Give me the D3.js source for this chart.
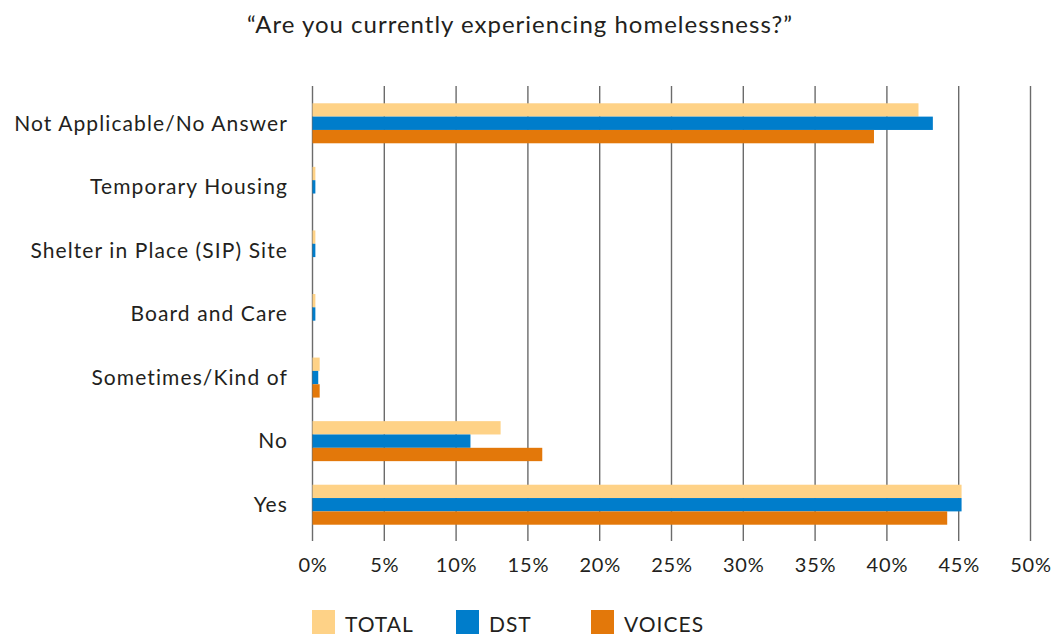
<!DOCTYPE html>
<html><head><meta charset="utf-8">
<script src="https://cdn.jsdelivr.net/npm/d3@7"></script>
<style>body{margin:0;background:#fff}svg{display:block}text{font-family:Lato,"Noto Sans",sans-serif;fill:#231f20}</style>
</head><body>
<svg id="c" width="1054" height="635"></svg>
<script>
const categories = ["Not Applicable/No Answer","Temporary Housing","Shelter in Place (SIP) Site","Board and Care","Sometimes/Kind of","No","Yes"];
const seriesNames = ["TOTAL","DST","VOICES"];
const totalValues = [42.2, 0.2, 0.2, 0.2, 0.5, 13.1, 45.2];
const dstValues = [43.2, 0.2, 0.2, 0.2, 0.4, 11.0, 45.2];
const voicesValues = [39.1, 0, 0, 0, 0.5, 16.0, 44.2];
const tickValues = [0,5,10,15,20,25,30,35,40,45,50];
const colors = ["#fed287","#007dcb","#e3780a"];
const title = "\u201cAre you currently experiencing homelessness?\u201d";

const series = [totalValues, dstValues, voicesValues];
const svg = d3.select("#c");
const x = d3.scaleLinear().domain([0,50]).range([312.5,1030.5]);
const y = d3.scaleBand().domain(categories).range([91.5,536.5]).paddingInner(0).paddingOuter(0);
const inner = d3.scaleBand().domain(seriesNames).range([0,40]);
const gridTop = 86, gridBottom = 541;

svg.append("text").attr("x",520).attr("y",33).attr("text-anchor","middle").attr("font-size",24)
  .attr("letter-spacing",1).text(title);

svg.append("g").selectAll("line").data(tickValues).join("line")
  .attr("x1",d=>x(d)).attr("x2",d=>x(d)).attr("y1",gridTop).attr("y2",gridBottom)
  .attr("stroke","#6b6b6b").attr("stroke-width",1.4);

const groups = svg.append("g").selectAll("g").data(categories).join("g")
  .attr("transform",d=>`translate(0,${y(d)+y.bandwidth()/2-20})`);
groups.selectAll("rect").data((c,i)=>seriesNames.map((s,j)=>({s,v:series[j][i],j}))).join("rect")
  .attr("x",x(0)).attr("y",d=>inner(d.s)).attr("height",inner.bandwidth())
  .attr("width",d=>x(d.v)-x(0)).attr("fill",d=>colors[d.j]);

svg.append("g").selectAll("text").data(categories).join("text")
  .attr("x",288).attr("y",d=>y(d)+y.bandwidth()/2).attr("dy","0.35em")
  .attr("text-anchor","end").attr("font-size",21).attr("letter-spacing",1.1).text(d=>d);

svg.append("g").selectAll("text").data(tickValues).join("text")
  .attr("x",d=>x(d)+0.5).attr("y",572).attr("text-anchor","middle").attr("font-size",20)
  .attr("letter-spacing",0.8).text(d=>d+"%");

const legX = [312,456,591];
const leg = svg.append("g").selectAll("g").data(seriesNames).join("g")
  .attr("transform",(d,i)=>`translate(${legX[i]},610)`);
leg.append("rect").attr("width",23).attr("height",24).attr("fill",(d,i)=>colors[i]);
leg.append("text").attr("x",33).attr("y",22).attr("font-size",21).attr("letter-spacing",1).text(d=>d);
</script>
</body></html>
